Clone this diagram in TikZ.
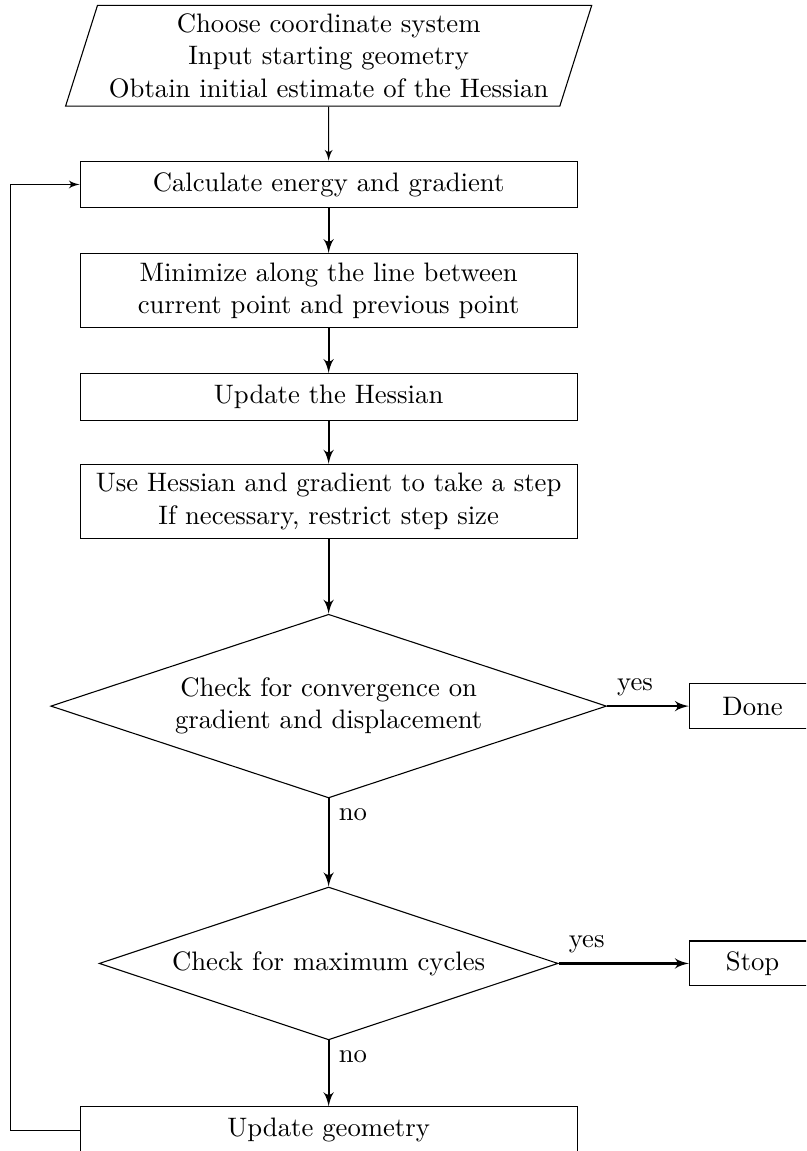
\documentclass[tikz,border=0pt]{standalone}
\usepackage{tikz}
\usetikzlibrary{arrows}
\usetikzlibrary{shapes.geometric}
\tikzstyle{block} = [draw,rectangle,minimum width=6.41cm,minimum height=0.6cm,align=center]
\tikzstyle{io} = [draw,trapezium,trapezium left angle=71,trapezium right angle=109,trapezium stretches=true,minimum width=6.8cm,minimum height=1.3cm,align=center,inner sep=1pt]
\tikzstyle{decision} = [draw,diamond,aspect=3,align=center]
\tikzstyle{endbox} = [draw,rectangle,minimum width=1.63cm,minimum height=0.58cm]
\tikzstyle{flow} = [->,thick]

\begin{document}
\begin{tikzpicture}[>=latex',font=\fontsize{9.8pt}{11.8pt}\selectfont]

% Frame of the picture (right and bottom are cut)
    \useasboundingbox (0,0) rectangle (10.40,-14.85);
    \clip (0,0) rectangle (10.40,-14.85);

% Draw blocks

    \def\cx{4.24}
    \node[io] at (\cx,-0.72) (init) {Choose coordinate system\\Input starting geometry\\Obtain initial estimate of the Hessian};
    \node[block] at (\cx,-2.38) (energy) {Calculate energy and gradient};
    \node[block] at (\cx,-3.75) (minim) {Minimize along the line between\\current point and previous point};
    \node[block] at (\cx,-5.12) (hess) {Update the Hessian};
    \node[block] at (\cx,-6.47) (stepp) {Use Hessian and gradient to take a step\\If necessary, restrict step size};
    \node[decision,minimum width=7.17cm,minimum height=2.37cm] at (\cx,-9.11) (conv) {Check for convergence on\\gradient and displacement};
    \node[endbox] at (9.71,-9.11) (done) {Done};
    \node[decision,minimum width=5.92cm,minimum height=1.97cm] at (\cx,-12.43) (cycles) {Check for maximum cycles};
    \node[endbox] at (9.71,-12.43) (stop) {Stop};
    \node[block] at (\cx,-14.58) (geom) {Update geometry};
    \coordinate (loop) at (0.13,0);

% Connectors
    \draw[->] (init) -- (energy);
    \draw[flow] (energy) -- (minim);
    \draw[flow] (minim) -- (hess);
    \draw[flow] (hess) -- (stepp);
    \draw[flow] (stepp) -- (conv);
    \draw[flow] (conv) -- node[pos=0,above right] {yes} (done);
    \draw[flow] (conv) -- node[pos=0,below right] {no} (cycles);
    \draw[flow] (cycles) -- node[pos=0,above right] {yes} (stop);
    \draw[flow] (cycles) -- node[pos=0,below right] {no} (geom);
    \draw[->] (geom.west) -- (geom.west -| loop) |- (energy.west);

\end{tikzpicture}
\end{document}
